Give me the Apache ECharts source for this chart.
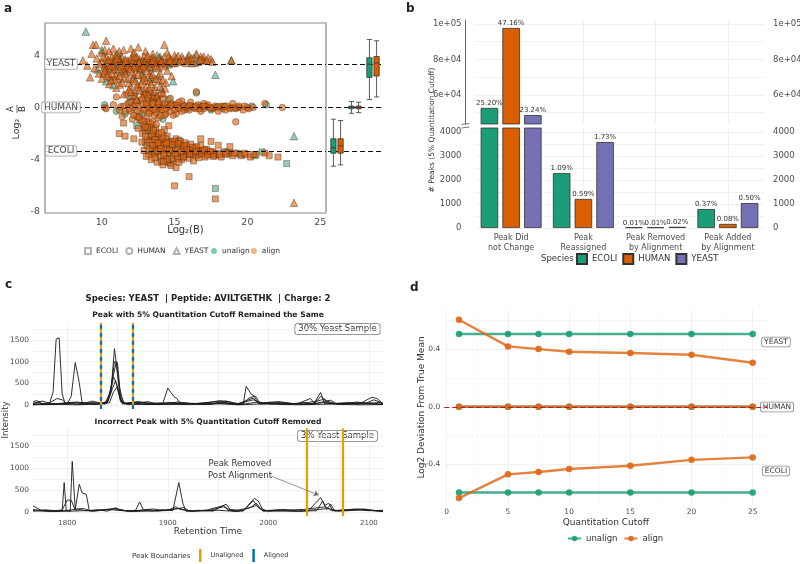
<!DOCTYPE html>
<html><head><meta charset="utf-8">
<script src="https://cdn.jsdelivr.net/npm/echarts@6/dist/echarts.min.js"></script>
<style>
html,body{margin:0;padding:0;background:#fff;width:800px;height:564px;overflow:hidden}
.p{position:absolute}
</style></head><body>
<div id="pa" class="p" style="left:0;top:0;width:400px;height:270px"></div>
<div id="pb" class="p" style="left:400px;top:0;width:400px;height:270px"></div>
<div id="pc" class="p" style="left:0;top:270px;width:400px;height:294px"></div>
<div id="pd" class="p" style="left:400px;top:270px;width:400px;height:294px"></div>
<script>
// ---------------- DATA ----------------
// Panel a: MA-style scatter (x = log2 B, y = log2 A/B)
const yeastAlign = [[8.7,3.6],[9.4,4.8],[9.6,4.8],[10.3,5.1],[10.0,4.2],[10.2,4.4],[10.5,4.3],[10.8,4.5],[11.2,4.3],[11.5,4.4],[12.0,4.5],[12.5,4.6],[12.2,4.2],[13.0,4.3],[13.5,4.1],[14.3,4.8],[14.5,4.2],[15.0,4.0],[15.5,3.9],[16.0,4.0],[16.5,4.1],[17.0,3.9],[17.3,3.8],[17.5,3.7],[18.9,3.6],
[10.0,3.5],[10.2,3.2],[10.3,3.8],[10.5,3.0],[10.6,3.6],[10.8,3.3],[10.9,3.9],[11.0,2.9],[11.1,3.5],[11.3,3.1],[11.4,3.8],[11.5,3.4],[11.7,2.8],[11.8,3.6],[12.0,3.2],[12.1,3.9],[12.3,3.4],[12.4,3.0],[12.6,3.7],[12.7,3.3],[12.9,3.9],[13.0,3.1],[13.2,3.6],[13.3,3.4],[13.5,3.8],[13.6,3.2],[13.8,3.5],[14.0,3.7],[14.1,3.3],[14.3,3.9],[14.5,3.5],[14.7,3.7],[14.9,3.4],[15.1,3.8],[15.3,3.5],[15.6,3.7],[15.8,3.4],[16.0,3.6],[16.3,3.8],[16.6,3.5],[16.9,3.7],[17.2,3.6],[17.6,3.5],
[10.4,3.4],[10.7,3.9],[11.2,3.7],[11.6,3.0],[11.9,3.4],[12.2,3.6],[12.5,3.2],[12.8,3.6],[13.1,3.3],[13.4,3.7],[13.7,3.4],[14.2,3.5],[11.3,2.7],[12.6,2.9],[13.9,3.0],
[10.1,3.9],[10.6,3.2],[10.9,3.6],[11.0,4.0],[11.3,3.4],[11.6,3.7],[11.8,3.1],[12.0,3.7],[12.2,3.1],[12.4,3.9],[12.7,3.0],[12.9,3.5],[13.1,3.8],[13.3,3.1],[13.6,3.6],[13.9,3.8],[14.1,3.6],[14.4,3.4],[14.6,3.9],[14.8,3.6],[15.0,3.4],[15.4,3.6],[15.9,3.6],[16.2,3.4],[16.8,3.9],[10.3,2.9],[10.6,2.3],[11.1,2.2],[11.5,2.9],[12.2,2.5],[12.8,2.1],[13.3,2.6],[13.9,2.4],[10.1,2.6],[10.8,2.9],
[10.15,3.05],[10.45,3.65],[10.75,3.15],[11.05,3.75],[11.35,3.25],[11.65,3.55],[11.95,2.95],[12.25,3.85],[12.55,3.45],[12.85,3.15],[13.15,3.95],[13.45,3.45],[13.75,3.15],[14.05,3.45],[14.35,3.15],[14.65,3.55],[10.35,2.55],[10.65,2.05],[10.95,2.45],[11.25,1.75],[11.55,2.25],[11.85,1.85],[12.15,2.15],[12.45,1.75],[12.75,2.45],[13.05,2.05],[13.35,2.35],[13.65,1.55],[13.95,2.05],[11.85,1.35],[12.15,0.95],[12.95,1.15],[13.25,1.45],[13.55,0.85],[14.35,1.45],[9.85,3.35],[9.65,3.75],[15.25,3.95],[16.15,3.75],[16.75,3.65],
[9.5,3.0],[9.8,2.6],[10.0,2.2],[10.2,2.8],[10.4,2.4],[10.5,1.8],[10.7,2.6],[10.9,2.1],[11.0,1.5],[11.2,2.4],[11.4,1.9],[11.6,2.6],[11.8,2.2],[12.0,1.6],[12.1,2.7],[12.3,2.0],[12.5,2.5],[12.7,1.8],[12.9,2.3],[13.1,2.8],[13.3,2.0],[13.5,2.5],[13.7,2.2],[14.0,2.6],[14.2,2.1],[14.5,2.8],[14.8,2.4],[9.2,2.3],[9.0,3.2],[9.3,4.1],
[11.5,1.0],[12.0,1.2],[12.3,0.9],[12.6,1.3],[12.8,0.8],[13.0,1.5],[13.2,1.0],[13.4,1.8],[13.6,1.2],[13.8,0.9],[14.0,1.6],[14.2,1.1],[14.4,1.9],[12.4,0.6],[13.9,0.5],[23.2,-7.3]];
const yeastUnalign = [[8.9,5.8],[10.0,4.4],[10.4,3.5],[10.9,3.2],[11.3,3.7],[11.9,3.3],[12.4,3.8],[12.9,3.5],[13.4,3.0],[14.0,3.9],[14.6,3.3],[15.2,3.6],[15.9,3.9],[16.4,3.4],[17.0,3.6],[17.8,2.5],[18.9,3.6],[9.7,2.9],[10.3,2.0],[10.8,1.7],[11.5,2.8],[12.2,2.3],[12.8,2.6],[13.5,2.2],[14.1,1.4],[14.9,2.0],[12.0,0.9],[13.1,1.2],[13.7,0.7],[23.2,-2.2],[11.1,4.1],[13.8,4.0],[16.5,4.0]];
const humanAlign = [[10.2,0.0],[10.3,-0.1],[10.8,0.2],[11.2,-0.2],[11.5,0.1],[11.8,0.3],[12.0,-0.3],[12.2,0.0],[12.4,0.5],[12.6,-0.4],[12.8,0.2],[13.0,-0.1],[13.2,0.4],[13.4,-0.3],[13.6,0.1],[13.8,0.6],[14.0,-0.2],[14.2,0.2],[14.4,-0.5],[14.6,0.0],[14.8,0.3],[15.0,-0.2],[15.2,0.1],[15.4,-0.1],[15.6,0.2],[15.8,0.0],[16.0,-0.2],[16.2,0.1],[16.4,-0.1],[16.6,0.2],[16.8,0.0],[17.0,-0.1],[17.2,0.1],[17.4,0.0],[17.6,-0.1],[17.8,0.1],[18.0,0.0],[18.3,-0.1],[18.6,0.1],[18.9,0.0],[19.2,-0.1],[19.5,0.0],[19.8,0.1],[20.1,-0.1],[22.4,0.0],[21.2,0.3],
[11.0,0.8],[11.4,-0.7],[11.7,1.0],[12.1,-0.9],[12.3,1.1],[12.7,-1.0],[12.9,0.9],[13.1,-0.7],[13.3,1.2],[13.5,-1.1],[13.7,0.8],[13.9,-0.8],[14.1,1.0],[14.3,-0.6],[14.7,0.7],[15.1,-0.5],[15.5,0.5],[16.1,0.4],[16.5,1.2],[19.2,-1.1],[14.9,-0.6],[12.5,1.5],[13.0,-1.5],[15.3,0.4],[17.0,0.3],[18.0,-0.3],[19.0,0.3],[16.8,-0.3],
[13.1,0.1],[13.9,-0.1],[14.5,0.2],[15.7,-0.2],[16.3,0.0],[17.3,0.2],[18.5,-0.2],[19.7,-0.2],[20.4,0.0],
[12.5,0.1],[12.9,-0.2],[13.3,-0.1],[13.5,0.3],[13.7,-0.4],[14.0,0.1],[14.3,0.3],[14.7,-0.3],[15.1,0.2],[15.5,-0.3],[15.9,0.1],[16.7,-0.1],[17.1,0.1],[17.7,0.0],[18.2,0.1],[18.8,-0.1],[19.4,0.1],[20.0,0.0],[12.0,0.4],[11.6,-0.3],[12.2,-0.6],[13.6,-0.6],[14.2,0.7],[13.4,0.8],[12.7,0.6],
[11.3,0.05],[11.9,-0.1],[12.3,0.25],[12.45,-0.25],[13.05,0.3],[13.25,-0.45],[13.55,-0.15],[13.85,0.25],[14.15,-0.15],[14.45,-0.05],[14.75,0.15],[15.25,-0.05],[15.65,0.05],[16.05,0.15],[16.45,0.05],[16.95,0.1],[17.45,-0.05],[17.95,0.05],[18.45,0.05],[19.05,-0.05],[12.55,-0.75],[13.15,0.65],[14.05,-0.65],[12.85,1.2],[13.75,-1.3]];
const humanUnalign = [[10.2,0.2],[11.0,-0.3],[11.9,0.4],[12.8,-0.5],[13.6,0.9],[14.2,-0.9],[15.0,0.2],[15.9,-0.1],[16.7,0.1],[17.5,-0.2],[18.4,0.1],[19.3,0.0],[20.3,0.1],[21.3,0.2],[12.4,-0.7],[13.3,0.5],[14.6,0.6],[11.6,-0.5],[16.5,1.1]];
const ecoliAlign = [[12.6,-0.9],[12.9,-1.3],[13.0,-1.8],[13.2,-1.1],[13.3,-2.2],[13.4,-1.5],[13.5,-2.6],[13.6,-1.9],[13.7,-2.9],[13.8,-2.3],[12.8,-2.0],[13.1,-2.5],[12.5,-1.6],[12.2,-2.4],[11.5,-1.2],[11.2,-2.0],[11.6,-2.2],
[13.5,-3.2],[13.7,-3.6],[13.9,-3.0],[14.0,-3.8],[14.1,-2.5],[14.2,-3.3],[14.3,-2.8],[14.4,-3.9],[14.5,-2.2],[14.6,-3.5],[14.7,-3.0],[14.8,-2.6],[14.9,-3.7],[15.0,-3.2],[15.1,-2.4],[15.2,-3.5],[15.3,-2.9],[15.4,-3.8],[15.5,-3.1],[15.6,-3.4],[15.7,-2.7],[15.8,-3.6],[15.9,-3.2],[16.0,-3.9],[16.1,-2.8],[16.2,-3.4],[16.4,-3.1],[16.5,-3.7],[16.6,-3.3],[16.8,-2.9],[17.0,-3.5],[17.2,-3.2],[17.4,-3.6],[17.6,-3.4],[17.8,-3.7],[18.0,-3.5],[18.2,-3.8],[18.4,-3.4],[18.6,-3.6],[18.8,-3.5],[19.0,-3.7],[19.3,-3.5],[19.6,-3.7],[19.9,-3.6],[20.2,-3.8],[20.6,-3.6],[21.2,-3.5],[21.5,-3.7],
[13.4,-4.0],[13.8,-4.2],[14.2,-4.4],[14.6,-4.2],[15.1,-4.6],[14.9,-4.1],[15.5,-4.0],[16.3,-4.1],[13.2,-3.6],[12.9,-3.3],[13.1,-2.9],[18.0,-2.9],[18.8,-3.0],[17.5,-2.6],[22.1,-3.8],[15.0,-6.0],[16.0,-5.3],[17.8,-7.0],[14.3,-1.7],[14.6,-1.4],[16.8,-2.4],
[14.3,-3.5],[14.8,-3.3],[15.2,-3.9],[15.7,-3.1],[16.1,-3.6],[16.7,-3.6],[17.1,-3.8],[13.9,-2.7],[14.4,-2.4],[13.6,-3.5],
[13.6,-2.2],[13.8,-3.3],[14.0,-2.9],[14.2,-2.2],[14.4,-3.1],[14.6,-2.7],[14.8,-3.9],[15.0,-2.6],[15.2,-3.2],[15.4,-2.6],[15.6,-3.8],[15.8,-2.9],[16.0,-3.3],[16.3,-3.5],[16.5,-3.0],[16.9,-3.3],[17.3,-3.4],[17.7,-3.5],[18.1,-3.6],[18.5,-3.5],[19.1,-3.5],[19.8,-3.5],[20.4,-3.6],[13.3,-2.7],[13.0,-2.2],[13.5,-2.9],[14.1,-4.1],[14.5,-4.0],[15.3,-4.2],[13.7,-1.6],[13.9,-2.0],[14.1,-1.9],
[13.45,-2.05],[13.65,-2.45],[13.85,-2.75],[14.05,-3.15],[14.25,-3.65],[14.45,-2.75],[14.65,-3.25],[14.85,-2.85],[15.05,-3.55],[15.25,-2.75],[15.45,-3.35],[15.65,-2.95],[15.85,-3.25],[16.05,-3.55],[16.25,-3.05],[16.45,-3.35],[16.65,-3.85],[16.85,-3.55],[17.05,-3.25],[17.25,-3.65],[17.45,-3.35],[17.65,-3.75],[13.25,-3.25],[13.05,-3.75],[13.65,-3.85],[14.25,-4.15],[14.75,-4.45],[13.35,-1.25],[13.15,-1.55],[12.85,-1.05],[13.55,-1.75],[12.75,-2.65]];
const ecoliUnalign = [[12.4,-1.4],[13.0,-2.7],[13.4,-3.4],[13.9,-3.4],[14.5,-3.1],[15.0,-2.8],[15.6,-3.8],[16.2,-3.2],[16.9,-3.4],[17.7,-3.6],[18.6,-3.4],[19.5,-3.6],[20.5,-3.7],[21.0,-3.4],[22.7,-4.3],[17.8,-6.2],[13.3,-1.8],[14.7,-4.3],[12.9,-1.6],[15.3,-2.5]];
const speciesLevels = [['YEAST',3.32],['HUMAN',0],['ECOLI',-3.32]];
const aXTicks = [10,15,20,25];
const aYTicks = [-8,-4,0,4];
const boxCats = ['ECOLI','HUMAN','YEAST'];
const boxUnalign = [[-4.5,-3.5,-3.1,-2.4,-0.9],[-0.45,-0.1,0,0.1,0.45],[0.6,2.3,3.3,3.8,5.2]];
const boxAlign   = [[-4.4,-3.5,-2.95,-2.4,-1.0],[-0.4,-0.1,0,0.1,0.4],[0.8,2.4,3.4,3.9,5.1]];

// Panel b: peak counts
const bCategories = ['Peak Did\nnot Change','Peak\nReassigned','Peak Removed\nby Alignment','Peak Added\nby Alignment'];
const bSpecies = ['ECOLI','HUMAN','YEAST'];
const ecoliPeaks = [52700, 2290, 30, 790];
const humanPeaks = [97750, 1210, 30, 170];
const yeastPeaks = [48700, 3580, 50, 1040];
const ecoliPct = ['25.20%','1.09%','0.01%','0.37%'];
const humanPct = ['47.16%','0.59%','0.01%','0.08%'];
const yeastPct = ['23.24%','1.73%','0.02%','0.50%'];
const bUpperTicks = [60000, 80000, 100000];
const bUpperLabels = ['6e+04','8e+04','1e+05'];
const bLowerTicks = [0, 1000, 2000, 3000, 4000];

// Panel c: chromatograms [retention time, intensity]
const trace30_1 = [[1766,30],[1772,60],[1776,20],[1782,10],[1786,300],[1789,1520],[1792,1550],[1795,260],[1798,20],[1805,30],[1812,10],[1820,40],[1830,20],[1838,60],[1843,300],[1847,1000],[1850,980],[1853,200],[1857,30],[1865,60],[1875,40],[1885,20],[1895,30],[1900,390],[1906,200],[1909,150],[1913,20],[1925,40],[1940,10],[1955,60],[1965,30],[1975,20],[1978,430],[1983,250],[1988,180],[1992,20],[2005,40],[2020,10],[2035,50],[2045,20],[2052,290],[2056,30],[2070,40],[2090,20],[2103,180],[2108,150],[2114,30]];
const trace30_2 = [[1766,80],[1770,100],[1774,40],[1780,20],[1790,150],[1795,120],[1800,20],[1804,200],[1808,980],[1812,520],[1815,20],[1825,60],[1833,30],[1840,80],[1844,450],[1847,1300],[1850,700],[1853,100],[1858,40],[1870,80],[1880,30],[1892,50],[1905,40],[1920,20],[1940,60],[1952,100],[1960,80],[1970,30],[1978,100],[1985,160],[1990,30],[2000,60],[2015,20],[2030,40],[2042,150],[2046,30],[2052,200],[2058,100],[2065,30],[2080,60],[2095,20],[2105,120],[2114,40]];
const trace30_3 = [[1766,40],[1775,90],[1785,30],[1795,40],[1805,60],[1815,30],[1825,90],[1835,40],[1841,100],[1845,600],[1849,1000],[1852,400],[1856,50],[1868,30],[1880,80],[1890,20],[1902,60],[1912,40],[1930,30],[1950,80],[1962,40],[1975,30],[1980,150],[1986,200],[1990,40],[2010,80],[2025,30],[2040,60],[2050,100],[2055,130],[2060,50],[2075,20],[2088,70],[2100,30],[2110,60],[2114,20]];
const trace30_4 = [[1766,10],[1778,40],[1790,20],[1800,50],[1810,70],[1820,20],[1830,40],[1838,20],[1843,250],[1846,650],[1849,500],[1853,80],[1860,20],[1872,70],[1884,40],[1896,20],[1910,70],[1925,20],[1945,40],[1958,90],[1968,20],[1985,120],[1995,30],[2012,60],[2028,20],[2048,40],[2062,110],[2068,20],[2085,40],[2102,50],[2114,10]];
const trace30_5 = [[1766,20],[1785,10],[1798,30],[1817,60],[1828,10],[1840,50],[1845,380],[1848,560],[1851,300],[1855,20],[1866,50],[1878,10],[1900,20],[1918,50],[1935,10],[1956,40],[1972,10],[1990,70],[2003,20],[2020,40],[2038,10],[2056,60],[2072,20],[2092,50],[2114,10]];
const trace30_6 = [[1766,5],[1790,15],[1810,5],[1830,20],[1842,50],[1846,300],[1850,420],[1854,60],[1860,10],[1885,15],[1920,10],[1948,30],[1970,5],[1995,25],[2030,5],[2060,20],[2090,5],[2114,10]];
const trace3_1 = [[1766,140],[1770,90],[1774,40],[1780,30],[1790,20],[1795,30],[1797,670],[1799,40],[1803,20],[1805,1150],[1808,60],[1812,630],[1815,430],[1819,400],[1822,30],[1830,50],[1840,20],[1848,100],[1852,60],[1860,20],[1868,40],[1872,230],[1876,40],[1885,20],[1895,50],[1905,30],[1911,670],[1915,200],[1918,20],[1930,40],[1945,20],[1958,180],[1962,60],[1975,30],[1986,310],[1990,250],[1995,30],[2010,50],[2025,20],[2040,30],[2052,330],[2056,150],[2060,200],[2064,30],[2080,40],[2095,70],[2105,30],[2114,20]];
const trace3_2 = [[1766,60],[1772,40],[1785,20],[1795,50],[1800,270],[1804,270],[1808,40],[1813,60],[1818,30],[1828,20],[1846,80],[1855,40],[1865,20],[1880,60],[1890,20],[1900,40],[1908,120],[1912,60],[1925,20],[1940,50],[1956,150],[1960,40],[1975,20],[1985,260],[1990,100],[2000,20],[2015,60],[2030,20],[2048,30],[2054,250],[2058,60],[2062,180],[2066,20],[2085,60],[2100,30],[2114,40]];
const trace3_3 = [[1766,20],[1778,50],[1790,30],[1802,40],[1810,70],[1816,80],[1824,20],[1838,60],[1848,70],[1858,30],[1875,40],[1885,70],[1898,30],[1907,70],[1916,100],[1922,20],[1940,30],[1955,120],[1965,20],[1982,100],[1988,200],[1994,30],[2012,40],[2035,60],[2050,100],[2057,120],[2063,30],[2088,70],[2105,40],[2114,20]];
const trace3_4 = [[1766,30],[1785,10],[1805,20],[1825,40],[1845,50],[1865,10],[1890,30],[1912,80],[1920,20],[1950,40],[1970,10],[1988,150],[1995,20],[2030,20],[2060,80],[2070,20],[2095,50],[2114,10]];
const unalignedBounds30 = [1833, 1865];
const alignedBounds30 = [1833, 1865];
const unalignedBounds3 = [2038, 2074];
const cXTicks = [1800, 1900, 2000, 2100];
const cYTicks = [0, 500, 1000, 1500];

// Panel d: deviation vs cutoff
const cutoffs = [1, 5, 7.5, 10, 15, 20, 25];
const yeastUnalignDev = [0.506, 0.506, 0.506, 0.506, 0.506, 0.506, 0.506];
const yeastAlignDev   = [0.605, 0.420, 0.401, 0.383, 0.374, 0.362, 0.306];
const humanUnalignDev = [0, 0, 0, 0, 0, 0, 0];
const humanAlignDev   = [0, 0, 0, 0, 0, 0, 0];
const ecoliUnalignDev = [-0.596, -0.596, -0.596, -0.596, -0.596, -0.596, -0.596];
const ecoliAlignDev   = [-0.635, -0.470, -0.454, -0.433, -0.410, -0.369, -0.352];
const dXTicks = [0, 5, 10, 15, 20, 25];
const dYTicks = [-0.4, 0, 0.4];

// ---------------- STYLE ----------------
const FONT = '"DejaVu Sans"';
const FF = 'DejaVu Sans';
const GREEN = '#1b9e77', ORANGE = '#d95f02', PURPLE = '#7570b3';
const BORANGE = '#E69F00', BBLUE = '#0072B2';
const TICK = '#4d4d4d';
const plain = v => String(v);

function txt(x, y, s, font, opt) {
  opt = opt || {};
  return Object.assign({type:'text', x:x, y:y, silent:true, rotation: opt.rotation || 0,
    style: Object.assign({text:s, font:font, fill: opt.fill || '#222',
      align: opt.align || 'center', verticalAlign: opt.va || 'middle',
      textAlign: opt.align || 'center', textVerticalAlign: opt.va || 'middle'}, opt.style || {})});
}
function gridLines(xi, yi, xs, ys, color) {
  return {type:'line', data:[], xAxisIndex:xi, yAxisIndex:yi, silent:true,
    markLine:{silent:true, z:0, symbol:'none', animation:false, label:{show:false},
      emphasis:{disabled:true},
      lineStyle:{color: color || '#ebebeb', width:0.7, type:'solid'},
      data: xs.map(v => ({xAxis:v})).concat(ys.map(v => ({yAxis:v})))}};
}
const G = {containLabel:false, outerBoundsMode:'none'};

// ---------------- PANEL A ----------------
(function(){
  const ch = echarts.init(document.getElementById('pa'));
  const border = 'rgba(70,38,12,0.85)';
  function scat(name, data, symbol, size, fill) {
    return {type:'scatter', name:name, data:data, symbol:symbol, symbolSize:size,
      xAxisIndex:0, yAxisIndex:0, silent:true, z:2,
      itemStyle:{color:fill, borderColor:border, borderWidth:0.6}};
  }
  const gFill = 'rgba(27,158,119,0.62)', oFill = 'rgba(218,98,18,0.78)';
  const opt = {
    animation:false,
    textStyle:{fontFamily:FF},
    grid:[Object.assign({left:45, top:23, width:281, height:190, show:true, borderColor:'#8a8a8a', borderWidth:1.2}, G),
          Object.assign({left:328, top:23, width:54, height:190}, G)],
    xAxis:[{type:'value', gridIndex:0, min:6.1, max:25.4, axisLine:{show:false}, axisTick:{show:false}, splitLine:{show:false},
            axisLabel:{customValues:aXTicks, color:TICK, fontSize:9.5, margin:5, formatter:plain},
            name:'Log₂(B)', nameLocation:'middle', nameGap:12, nameMoveOverlap:false, nameTextStyle:{fontSize:10, color:'#333'}},
           {type:'category', gridIndex:1, data:boxCats, show:false}],
    yAxis:[{type:'value', gridIndex:0, min:-8.08, max:6.46, axisLine:{show:false}, axisTick:{show:false}, splitLine:{show:false},
            axisLabel:{customValues:aYTicks, color:TICK, fontSize:9.5, margin:5, formatter:plain}},
           {type:'value', gridIndex:1, min:-8.08, max:6.46, show:false, splitLine:{show:false}}],
    legend:[{left:84, top:247, padding:0, itemWidth:6, itemHeight:6, itemGap:7, selectedMode:false,
             textStyle:{fontSize:7.5, color:'#333', fontFamily:FF}, data:['ECOLI','HUMAN','YEAST']},
            {left:211, top:247, padding:0, itemWidth:6, itemHeight:6, itemGap:1, selectedMode:false,
             textStyle:{fontSize:7.5, color:'#333', fontFamily:FF}, data:['unalign','align']}],
    series:[
      scat('ECOLI unalign', ecoliUnalign, 'rect', 6, gFill),
      scat('HUMAN unalign', humanUnalign, 'circle', 6.5, gFill),
      scat('YEAST unalign', yeastUnalign, 'triangle', 7.5, gFill),
      scat('ECOLI align', ecoliAlign, 'rect', 6, oFill),
      scat('HUMAN align', humanAlign, 'circle', 6.5, oFill),
      scat('YEAST align', yeastAlign, 'triangle', 7.5, oFill),
      {type:'scatter', name:'ECOLI', data:[], symbol:'rect', itemStyle:{color:'#fff', borderColor:'#a0a0a0', borderWidth:1}},
      {type:'scatter', name:'HUMAN', data:[], symbol:'circle', itemStyle:{color:'#fff', borderColor:'#a0a0a0', borderWidth:1}},
      {type:'scatter', name:'YEAST', data:[], symbol:'triangle', itemStyle:{color:'#fff', borderColor:'#a0a0a0', borderWidth:1}},
      {type:'scatter', name:'unalign', data:[], symbol:'circle', itemStyle:{color:'#5fbf9f'}},
      {type:'scatter', name:'align', data:[], symbol:'circle', itemStyle:{color:'#f0a060'}},
      {type:'line', data:[], xAxisIndex:0, yAxisIndex:0, silent:true,
        markLine:{silent:true, symbol:'none', label:{show:false}, animation:false,
          lineStyle:{color:'#111', type:[5,3], width:1.2}, data: speciesLevels.map(s => ({yAxis:s[1]}))}},
      {type:'line', data:[], xAxisIndex:1, yAxisIndex:1, silent:true,
        markLine:{silent:true, symbol:'none', label:{show:false}, animation:false,
          lineStyle:{color:'#111', type:[5,3], width:1.2}, data: speciesLevels.map(s => ({yAxis:s[1]}))}},
      {type:'boxplot', name:'box unalign', xAxisIndex:1, yAxisIndex:1, data:boxUnalign, boxWidth:[5,6], silent:true, z:6,
        itemStyle:{color:GREEN, borderColor:'#333', borderWidth:0.8}},
      {type:'boxplot', name:'box align', xAxisIndex:1, yAxisIndex:1, data:boxAlign, boxWidth:[5,6], silent:true, z:6,
        itemStyle:{color:ORANGE, borderColor:'#333', borderWidth:0.8}},
      {type:'scatter', xAxisIndex:0, yAxisIndex:0, silent:true, z:10, symbolSize:1, itemStyle:{color:'rgba(0,0,0,0)'},
        data: speciesLevels.map(s => [7.2, s[1], s[0]]),
        label:{show:true, position:'inside', formatter: p => p.data[2], fontSize:9, color:'#222', fontFamily:FF,
          backgroundColor:'#fff', borderColor:'#999', borderWidth:0.8, borderRadius:2, padding:[1,2,0,2]}}
    ],
    graphic:[
      txt(4, 9, 'a', 'bold 12px ' + FONT, {align:'left'}),
      {type:'group', x:17, y:116, rotation:Math.PI/2, silent:true, children:[
        txt(-13, 0, 'Log₂', '9.5px ' + FONT, {fill:'#333'}),
        txt(7, -6, 'A', '8.5px ' + FONT, {fill:'#333'}),
        {type:'line', shape:{x1:3, y1:0, x2:11, y2:0}, style:{stroke:'#333', lineWidth:0.7}},
        txt(7, 6, 'B', '8.5px ' + FONT, {fill:'#333'})
      ]}
    ]
  };
  ch.setOption(opt);
})();

// ---------------- PANEL B ----------------
(function(){
  const ch = echarts.init(document.getElementById('pb'));
  const lowerMax = 4167, upperMin = 43650, upperMax = 102254;
  const counts = [ecoliPeaks, humanPeaks, yeastPeaks];
  const pcts = [ecoliPct, humanPct, yeastPct];
  const cols = [GREEN, ORANGE, PURPLE];
  const lbl = {show:true, position:'top', distance:1, fontSize:7, color:'#333', fontFamily:FF};
  const series = [
    gridLines(0, 0, bCategories, [50000,60000,70000,80000,90000,100000]),
    gridLines(1, 2, bCategories, [0,500,1000,1500,2000,2500,3000,3500,4000])
  ];
  bSpecies.forEach((s, k) => {
    series.push({type:'bar', name:s, xAxisIndex:0, yAxisIndex:0, barWidth:17.5, barGap:'24%', z:2, silent:true,
      data: counts[k].map(v => v > lowerMax ? v : '-'),
      itemStyle:{color:cols[k], borderColor:'#333', borderWidth:0.8},
      label:Object.assign({}, lbl, {formatter: p => pcts[k][p.dataIndex]})});
    series.push({type:'bar', name:s, xAxisIndex:1, yAxisIndex:2, barWidth:17.5, barGap:'24%', z:2, silent:true,
      data: counts[k], clip:true,
      itemStyle:{color:cols[k], borderColor:'#333', borderWidth:0.8},
      label:Object.assign({}, lbl, {formatter: p => counts[k][p.dataIndex] > lowerMax ? '' : pcts[k][p.dataIndex]})});
  });
  const yl = {color:TICK, fontSize:8.5, fontFamily:FF};
  const opt = {
    animation:false,
    textStyle:{fontFamily:FF},
    grid:[Object.assign({left:75, top:20, width:289, height:104}, G),
          Object.assign({left:75, top:128, width:289, height:100}, G)],
    xAxis:[{type:'category', gridIndex:0, data:bCategories, show:false},
           {type:'category', gridIndex:1, data:bCategories, axisLine:{show:false}, axisTick:{show:false}, splitLine:{show:false},
            axisLabel:{color:TICK, fontSize:8, margin:5, lineHeight:10, interval:0, fontFamily:FF}}],
    yAxis:[{type:'value', gridIndex:0, min:upperMin, max:upperMax, position:'left', offset:9.5,
            axisLine:{show:true, lineStyle:{color:'#666', width:1}}, axisTick:{show:false}, splitLine:{show:false},
            axisLabel:Object.assign({customValues:bUpperTicks, margin:4, formatter: v => bUpperLabels[bUpperTicks.indexOf(v)]}, yl)},
           {type:'value', gridIndex:0, min:upperMin, max:upperMax, position:'right',
            axisLine:{show:false}, axisTick:{show:false}, splitLine:{show:false},
            axisLabel:Object.assign({customValues:bUpperTicks, margin:9, formatter: v => bUpperLabels[bUpperTicks.indexOf(v)]}, yl)},
           {type:'value', gridIndex:1, min:0, max:lowerMax, position:'left', offset:9.5,
            axisLine:{show:false}, axisTick:{show:false}, splitLine:{show:false},
            axisLabel:Object.assign({customValues:bLowerTicks, margin:4, formatter:plain}, yl)},
           {type:'value', gridIndex:1, min:0, max:lowerMax, position:'right',
            axisLine:{show:false}, axisTick:{show:false}, splitLine:{show:false},
            axisLabel:Object.assign({customValues:bLowerTicks, margin:9, formatter:plain}, yl)}],
    legend:{left:176, top:253, padding:0, itemWidth:10, itemHeight:10, itemGap:5, selectedMode:false, icon:'rect',
            textStyle:{fontSize:8.5, color:'#333', fontFamily:FF}, data:bSpecies},
    series:series,
    graphic:[
      txt(6, 9, 'b', 'bold 12px ' + FONT, {align:'left'}),
      txt(32, 130, '# Peaks (5% Quantitation Cutoff)', '7.5px ' + FONT, {rotation:Math.PI/2, fill:'#333'}),
      txt(141, 258.5, 'Species', '8.5px ' + FONT, {align:'left', fill:'#333'}),
      {type:'line', shape:{x1:61.5, y1:124.5, x2:69.5, y2:123.5}, style:{stroke:'#555', lineWidth:0.8}, silent:true},
      {type:'line', shape:{x1:61.5, y1:128, x2:69.5, y2:127}, style:{stroke:'#555', lineWidth:0.8}, silent:true}
    ]
  };
  ch.setOption(opt);
})();

// ---------------- PANEL C ----------------
(function(){
  const ch = echarts.init(document.getElementById('pc'));
  const lineS = (d, gi) => ({type:'line', data:d, xAxisIndex:gi, yAxisIndex:gi, symbol:'none', silent:true, z:2,
    lineStyle:{color:'#1a1a1a', width:0.9}});
  const xs = [1800,1850,1900,1950,2000,2050,2100];
  const ys = [0,250,500,750,1000,1250,1500,1750];
  const xAx = (gi, showLabels) => ({type:'value', gridIndex:gi, min:1766, max:2114,
    axisLine:{show:false}, axisTick:{show:false}, splitLine:{show:false},
    axisLabel:{show:showLabels, customValues:cXTicks, color:TICK, fontSize:7, margin:4, fontFamily:FF, formatter:plain}});
  const yAx = (gi) => ({type:'value', gridIndex:gi, min:-90, max:1900,
    axisLine:{show:false}, axisTick:{show:false}, splitLine:{show:false},
    axisLabel:{customValues:cYTicks, color:TICK, fontSize:7.5, margin:4, fontFamily:FF, formatter:plain}});
  const xa1 = xAx(1, true);
  xa1.name = 'Retention Time'; xa1.nameLocation = 'middle'; xa1.nameGap = 11; xa1.nameMoveOverlap = false;
  xa1.nameTextStyle = {fontSize:9, color:'#333', fontFamily:FF};
  const opt = {
    animation:false,
    textStyle:{fontFamily:FF},
    grid:[Object.assign({left:33, top:52.7, width:350, height:86.2}, G),
          Object.assign({left:33, top:158.4, width:350, height:87.6}, G)],
    xAxis:[xAx(0, false), xa1],
    yAxis:[yAx(0), yAx(1)],
    legend:{left:199, top:279, padding:0, itemWidth:2.5, itemHeight:13, itemGap:9, icon:'rect', selectedMode:false,
            textStyle:{fontSize:6.5, color:'#333', fontFamily:FF, padding:[0,0,0,4]}, data:['Unaligned','Aligned']},
    series:[
      gridLines(0, 0, xs, ys), gridLines(1, 1, xs, ys),
      lineS(trace30_6,0), lineS(trace30_5,0), lineS(trace30_4,0), lineS(trace30_3,0), lineS(trace30_2,0), lineS(trace30_1,0),
      lineS(trace3_4,1), lineS(trace3_3,1), lineS(trace3_2,1), lineS(trace3_1,1),
      {type:'line', name:'Unaligned', data:[], xAxisIndex:0, yAxisIndex:0, itemStyle:{color:BORANGE}, lineStyle:{color:BORANGE},
        markLine:{silent:true, symbol:'none', label:{show:false}, animation:false, z:5,
          lineStyle:{color:BORANGE, width:2.2, type:'solid'}, data: unalignedBounds30.map(v => ({xAxis:v}))}},
      {type:'line', name:'Aligned', data:[], xAxisIndex:0, yAxisIndex:0, itemStyle:{color:BBLUE}, lineStyle:{color:BBLUE},
        markLine:{silent:true, symbol:'none', label:{show:false}, animation:false, z:6,
          lineStyle:{color:BBLUE, width:2.2, type:[4,4]}, data: alignedBounds30.map(v => ({xAxis:v}))}},
      {type:'line', data:[], xAxisIndex:1, yAxisIndex:1, silent:true,
        markLine:{silent:true, symbol:'none', label:{show:false}, animation:false, z:5,
          lineStyle:{color:BORANGE, width:2.2, type:'solid'}, data: unalignedBounds3.map(v => ({xAxis:v}))}},
      {type:'line', data:[], xAxisIndex:1, yAxisIndex:1, silent:true,
        markLine:{silent:true, symbol:['none','arrow'], symbolSize:5, label:{show:false}, animation:false, z:7,
          lineStyle:{color:'#666', width:0.7, type:'solid'}, data:[[{coord:[2003,815]},{coord:[2050,385]}]]}}
    ],
    graphic:[
      txt(5, 15, 'c', 'bold 12px ' + FONT, {align:'left'}),
      txt(208, 29, 'Species: YEAST  | Peptide: AVILTGETHK  | Charge: 2', 'bold 8.5px ' + FONT),
      txt(208, 45, 'Peak with 5% Quantitation Cutoff Remained the Same', 'bold 7.6px ' + FONT),
      txt(208, 152, 'Incorrect Peak with 5% Quantitation Cutoff Removed', 'bold 7.6px ' + FONT),
      txt(6, 150, 'Intensity', '8.5px ' + FONT, {rotation:Math.PI/2, fill:'#333'}),
      txt(337.5, 59, '30% Yeast Sample', '8.5px ' + FONT, {fill:'#333',
        style:{backgroundColor:'#fff', borderColor:'#777', borderWidth:0.8, borderRadius:2, padding:[1,3,0,3]}}),
      txt(337.5, 166, '3% Yeast Sample', '8.5px ' + FONT, {fill:'#333',
        style:{backgroundColor:'#fff', borderColor:'#777', borderWidth:0.8, borderRadius:2, padding:[1,3,0,3]}}),
      txt(240, 193.5, 'Peak Removed', '8.5px ' + FONT, {fill:'#333'}),
      txt(240, 206, 'Post Alignment', '8.5px ' + FONT, {fill:'#333'}),
      txt(132, 286, 'Peak Boundaries', '7px ' + FONT, {align:'left', fill:'#333'})
    ]
  };
  ch.setOption(opt);
})();

// ---------------- PANEL D ----------------
(function(){
  const ch = echarts.init(document.getElementById('pd'));
  const zip = ys => cutoffs.map((c, i) => [c, ys[i]]);
  const ln = (name, ys, col) => ({type:'line', name:name, data:zip(ys), symbol:'circle', symbolSize:6.5, silent:true, z:3,
    itemStyle:{color:col}, lineStyle:{color:col, width:2.4, opacity:0.9}});
  const gc = 'rgba(27,158,119,0.9)', oc = 'rgba(222,105,25,0.92)';
  const opt = {
    animation:false,
    textStyle:{fontFamily:FF},
    grid:[Object.assign({left:44.3, top:40, width:323.1, height:195}, G)],
    xAxis:[{type:'value', min:-0.2, max:26.2, axisLine:{show:false}, axisTick:{show:false}, splitLine:{show:false},
            axisLabel:{customValues:dXTicks, color:TICK, fontSize:7.5, margin:3, fontFamily:FF, formatter:plain},
            name:'Quantitation Cutoff', nameLocation:'middle', nameGap:13, nameMoveOverlap:false,
            nameTextStyle:{fontSize:9, color:'#333', fontFamily:FF}}],
    yAxis:[{type:'value', min:-0.683, max:0.673, axisLine:{show:false}, axisTick:{show:false}, splitLine:{show:false},
            axisLabel:{customValues:dYTicks, color:TICK, fontSize:7.5, margin:4, fontFamily:FF, formatter: v => v.toFixed(1)},
            name:'Log2 Deviation From True Mean', nameLocation:'middle', nameGap:18, nameRotate:90, nameMoveOverlap:false,
            nameTextStyle:{fontSize:9, color:'#333', fontFamily:FF}}],
    legend:{left:167, top:264, padding:0, itemWidth:13, itemHeight:7, itemGap:6, selectedMode:false,
            textStyle:{fontSize:8.5, color:'#333', fontFamily:FF}, data:['unalign','align']},
    series:[
      gridLines(0, 0, [0,5,10,15,20,25], [-0.4,0,0.4], '#ebebeb'),
      gridLines(0, 0, [2.5,7.5,12.5,17.5,22.5], [-0.6,-0.2,0.2,0.6], '#f4f4f4'),
      ln('unalign', yeastUnalignDev, gc), ln('unalign', humanUnalignDev, gc), ln('unalign', ecoliUnalignDev, gc),
      ln('align', yeastAlignDev, oc), ln('align', humanAlignDev, oc), ln('align', ecoliAlignDev, oc),
      {type:'line', data:[], silent:true,
        markLine:{silent:true, symbol:'none', label:{show:false}, animation:false, z:4,
          lineStyle:{color:'#c0161d', width:1.1, type:[5,3]}, data:[{yAxis:0}]}}
    ],
    graphic:[
      txt(10, 18, 'd', 'bold 12px ' + FONT, {align:'left'}),
      txt(376, 72, 'YEAST', '7.5px ' + FONT, {fill:'#333', style:{backgroundColor:'#fff', borderColor:'#888', borderWidth:0.8, borderRadius:2, padding:[1,2,0,2]}}),
      txt(377, 137, 'HUMAN', '7.5px ' + FONT, {fill:'#333', style:{backgroundColor:'#fff', borderColor:'#888', borderWidth:0.8, borderRadius:2, padding:[1,2,0,2]}}),
      txt(376, 201, 'ECOLI', '7.5px ' + FONT, {fill:'#333', style:{backgroundColor:'#fff', borderColor:'#888', borderWidth:0.8, borderRadius:2, padding:[1,2,0,2]}})
    ]
  };
  ch.setOption(opt);
})();
</script>
</body></html>
